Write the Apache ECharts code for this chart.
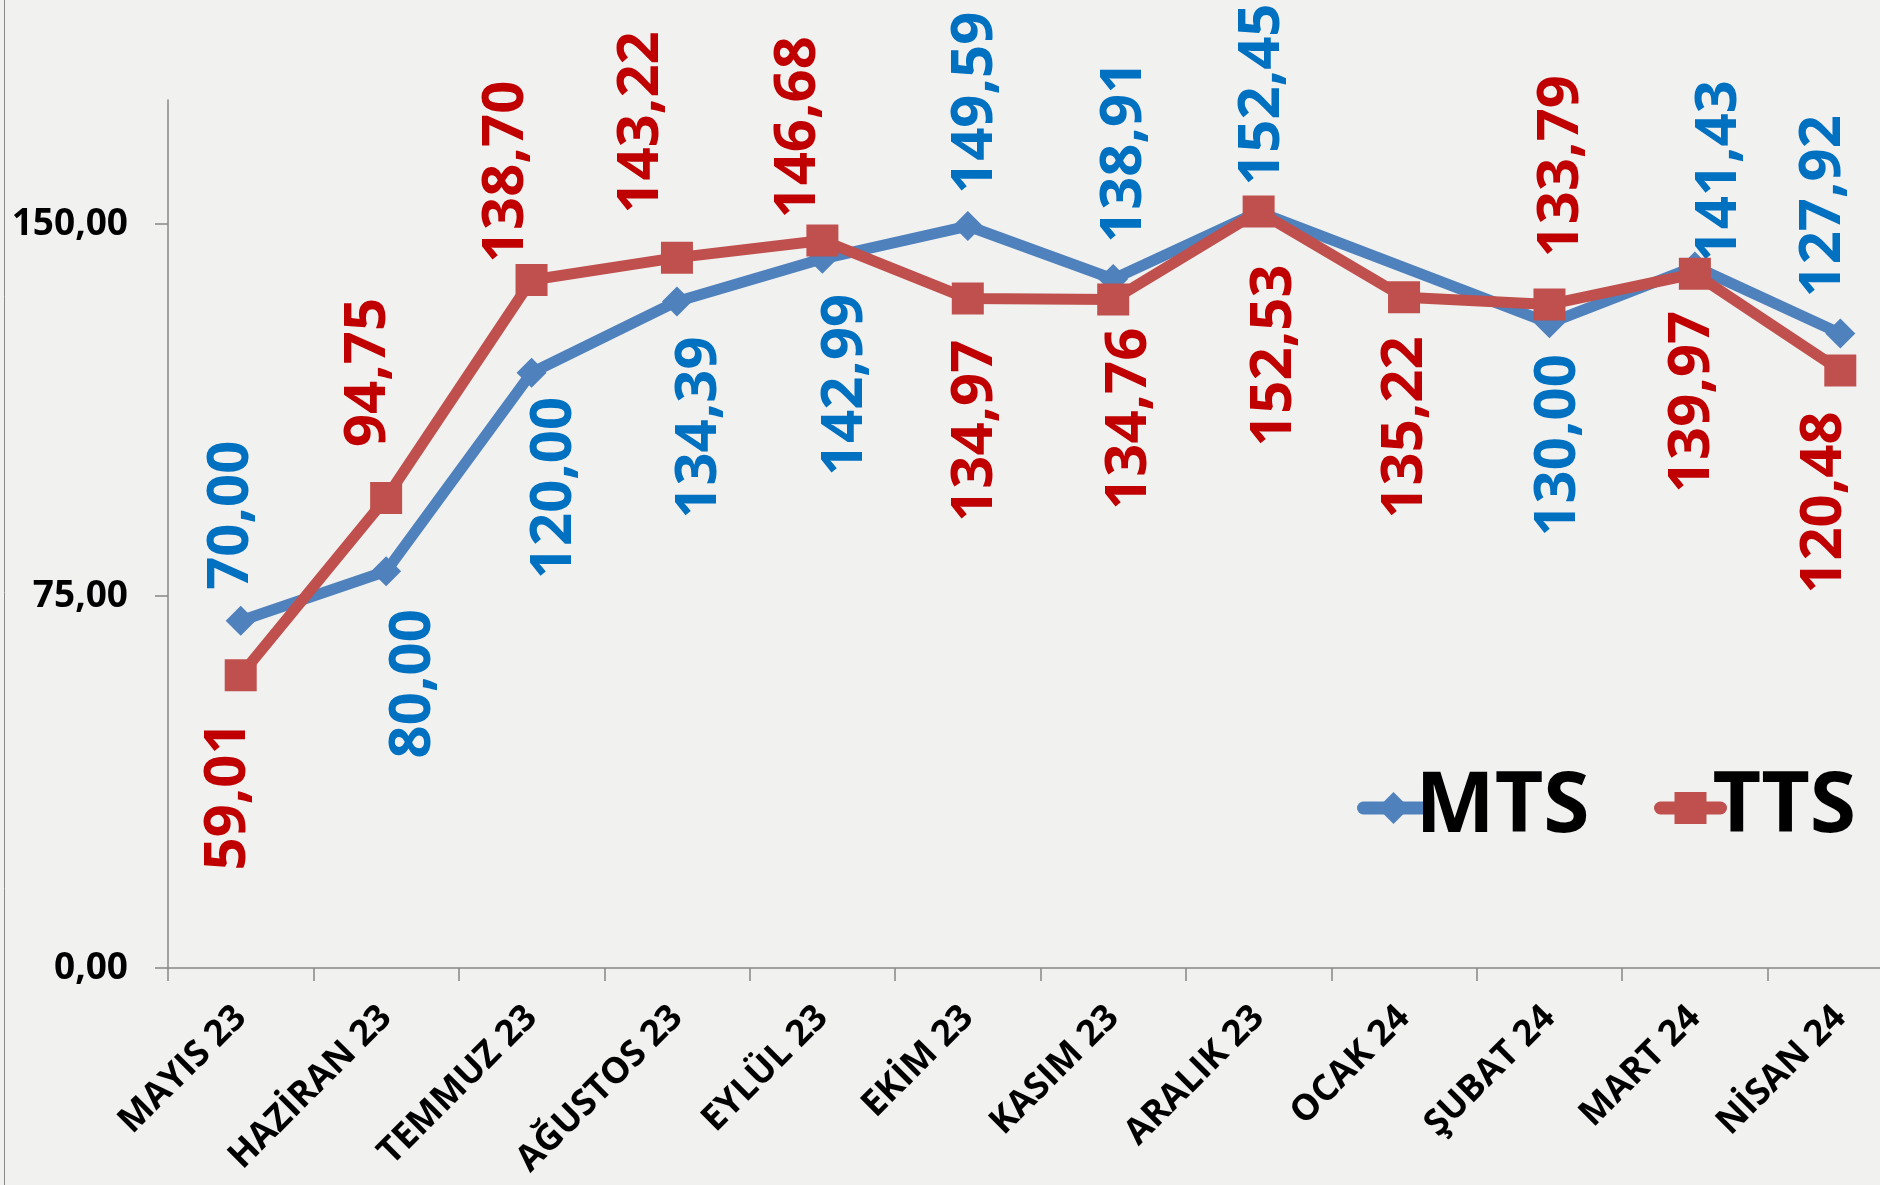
<!DOCTYPE html>
<html>
<head>
<meta charset="utf-8">
<script src="https://cdn.jsdelivr.net/npm/echarts@6/dist/echarts.min.js"></script>
<style>
  html, body { margin: 0; padding: 0; background: #f1f1f0; }
  #chart { width: 1880px; height: 1185px; }
</style>
</head>
<body>
<div id="chart"></div>
<script>
// Monthly values for the two series
const months = ['MAYIS 23', 'HAZİRAN 23', 'TEMMUZ 23', 'AĞUSTOS 23', 'EYLÜL 23', 'EKİM 23',
                'KASIM 23', 'ARALIK 23', 'OCAK 24', 'ŞUBAT 24', 'MART 24', 'NİSAN 24'];
const mtsValues = [70.00, 80.00, 120.00, 134.39, 142.99, 149.59, 138.91, 152.45, null, 130.00, 141.43, 127.92];
const ttsValues = [59.01, 94.75, 138.70, 143.22, 146.68, 134.97, 134.76, 152.53, 135.22, 133.79, 139.97, 120.48];
const yTickValues = [0, 75, 150];

// Value label placement per point: side of the marker, sideways nudge, distance from the point
const mtsLabelSide  = ['up', 'down', 'down', 'down', 'down', 'up', 'up', 'up', null, 'down', 'up', 'up'];
const mtsLabelShift = [-14, 22, 18, 18, 18, 3, 6, -1, 0, 4, 20, -22];
const mtsLabelGap   = [33, 40, 26, 37, 37, 34, 38, 28, 0, 33, 6, 38];
const ttsLabelSide  = ['down', 'up', 'up', 'up', 'up', 'down', 'down', 'down', 'down', 'up', 'down', 'down'];
const ttsLabelShift = [-17, -23, -30, -40, -29, 3, 11, 11, -4, 7, -7, -21];
const ttsLabelGap   = [48, 53, 19, 46, 24, 43, 30, 55, 41, 49, 39, 43];

const FONT = '"Open Sans", "Noto Sans", sans-serif';
const fmt = v => v.toFixed(2).replace('.', ',');

// Labels are turned 90°, so the offset is given in the turned frame:
// a screen shift (sx, sy) becomes [-sy, sx].
function buildData(values, sides, shifts, gaps, color) {
  return values.map((v, i) => {
    if (v === null) return null;
    const up = sides[i] === 'up';
    const gap = gaps[i] - 2;
    const sx = shifts[i] + 5;
    const sy = up ? -gap : gap;
    return {
      value: v,
      label: {
        show: true,
        position: 'inside',
        rotate: 90,
        align: up ? 'left' : 'right',
        verticalAlign: 'middle',
        offset: [-sy, sx],
        color: color,
        textBorderWidth: 0,
        fontFamily: FONT,
        fontWeight: 'bold',
        fontSize: 58,
        formatter: p => fmt(p.value)
      }
    };
  });
}

const legendCommon = {
  top: 761,
  itemWidth: 60,
  itemHeight: 40,
  lineStyle: { width: 13, cap: 'round' },
  textStyle: { fontFamily: FONT, fontWeight: 'bold', fontSize: 84, color: '#000', padding: [32, 0, 0, -13] }
};

const chart = echarts.init(document.getElementById('chart'), null, { renderer: 'canvas' });

chart.setOption({
  backgroundColor: '#f1f1f0',
  animation: false,
  grid: { left: 168, right: -33, top: 100, bottom: 217, containLabel: false, outerBoundsMode: 'none' },
  legend: [
    Object.assign({ left: 1352, data: ['MTS'] }, legendCommon),
    Object.assign({ left: 1649, data: ['TTS'] }, legendCommon)
  ],
  xAxis: {
    type: 'category',
    data: months,
    boundaryGap: true,
    axisLine: { lineStyle: { color: '#878787', width: 1.5 } },
    axisTick: { show: true, length: 13, alignWithLabel: false, lineStyle: { color: '#878787', width: 1.5 } },
    axisLabel: {
      interval: 0,
      rotate: 45,
      margin: 44,
      color: '#000',
      fontFamily: FONT,
      fontWeight: 'bold',
      fontSize: 36
    },
    splitLine: { show: false }
  },
  yAxis: {
    type: 'value',
    min: 0,
    max: 175,
    interval: 75,
    axisLine: { show: true, lineStyle: { color: '#878787', width: 1.5 } },
    axisTick: { show: true, length: 13, customValues: yTickValues, lineStyle: { color: '#878787', width: 1.5 } },
    axisLabel: {
      customValues: yTickValues,
      margin: 40,
      color: '#000',
      fontFamily: FONT,
      fontWeight: 'bold',
      fontSize: 37,
      formatter: v => fmt(v)
    },
    splitLine: { show: false }
  },
  graphic: [{
    type: 'line',
    shape: { x1: 4.5, y1: 0, x2: 4.5, y2: 1185 },
    style: { stroke: '#8a8a8a', lineWidth: 1 },
    silent: true
  }],
  series: [
    {
      name: 'MTS',
      type: 'line',
      connectNulls: true,
      symbol: 'diamond',
      symbolSize: 30,
      color: '#4F81BD',
      lineStyle: { width: 11, color: '#4F81BD' },
      itemStyle: { color: '#4F81BD' },
      data: buildData(mtsValues, mtsLabelSide, mtsLabelShift, mtsLabelGap, '#0070C0'),
      z: 2
    },
    {
      name: 'TTS',
      type: 'line',
      connectNulls: true,
      symbol: 'rect',
      symbolSize: 32,
      color: '#C0504D',
      lineStyle: { width: 11, color: '#C0504D' },
      itemStyle: { color: '#C0504D' },
      data: buildData(ttsValues, ttsLabelSide, ttsLabelShift, ttsLabelGap, '#C00000'),
      z: 3
    }
  ]
});
</script>
</body>
</html>
